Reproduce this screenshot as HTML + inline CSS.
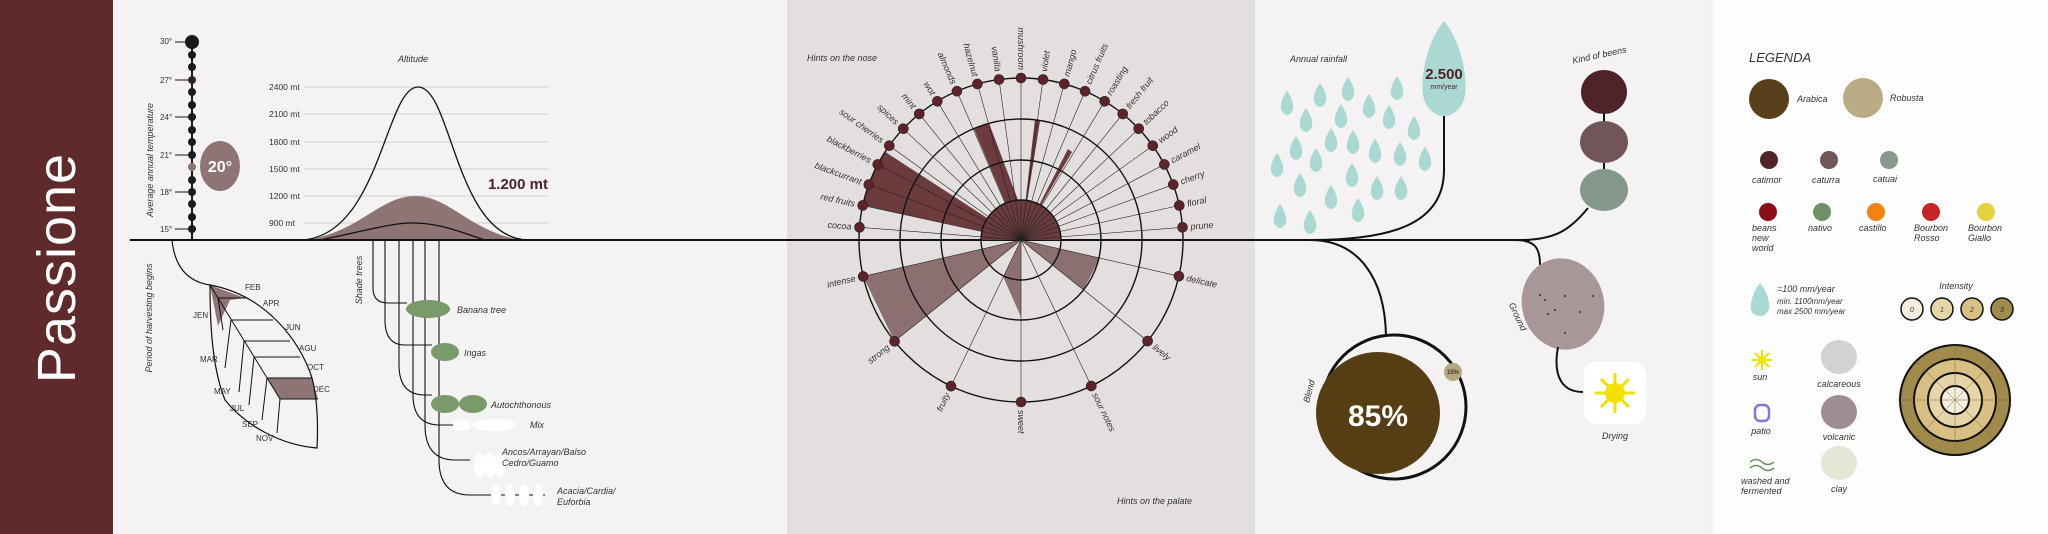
<!DOCTYPE html>
<html><head><meta charset="utf-8"><style>
html,body{margin:0;padding:0;background:#f4f2f2}
svg{display:block}
text{font-family:"Liberation Sans",sans-serif;fill:#333}
.i{font-style:italic;font-size:9px}
.s{font-size:9px}
</style></head><body>
<svg width="2048" height="534" viewBox="0 0 2048 534" xmlns="http://www.w3.org/2000/svg">
<defs><path id="d" d="M0,-12 C5,-5 7,2 6,6 C5,10 2,12 0,12 C-2,12 -5,10 -6,6 C-7,2 -5,-5 0,-12 Z"/></defs>
<rect x="0" y="0" width="2048" height="534" fill="#f4f2f2"/>
<rect x="0" y="0" width="113" height="534" fill="#5e2a2c"/>
<text transform="translate(75,268) rotate(-90)" text-anchor="middle" style="font-size:54px;fill:#fff;letter-spacing:1px">Passione</text>
<rect x="787" y="0" width="468" height="534" fill="#e4dfdf"/>
<rect x="1712" y="0" width="336" height="534" fill="#fdfdfd"/>

<!-- temperature -->
<text class="i" transform="translate(153,160) rotate(-90)" text-anchor="middle">Average annual temperature</text>
<line x1="192" y1="42" x2="192" y2="240" stroke="#1a1a1a" stroke-width="2"/>
<circle cx="192" cy="42" r="7" fill="#1a1a1a"/>
<g fill="#1a1a1a">
<circle cx="192" cy="55" r="4"/><circle cx="192" cy="67" r="4"/><circle cx="192" cy="80" r="4" fill="#3a2022"/><circle cx="192" cy="92" r="4"/><circle cx="192" cy="105" r="4"/><circle cx="192" cy="117" r="4"/><circle cx="192" cy="130" r="4"/><circle cx="192" cy="142" r="4"/><circle cx="192" cy="155" r="4"/><circle cx="192" cy="167" r="4" fill="#8f7475"/><circle cx="192" cy="180" r="4"/><circle cx="192" cy="192" r="4"/><circle cx="192" cy="204" r="4"/><circle cx="192" cy="217" r="4"/><circle cx="192" cy="229" r="4"/>
</g>
<g stroke="#1a1a1a" stroke-width="1"><line x1="175" y1="42" x2="192" y2="42"/><line x1="175" y1="80" x2="192" y2="80"/><line x1="175" y1="117" x2="192" y2="117"/><line x1="175" y1="155" x2="192" y2="155"/><line x1="175" y1="192" x2="192" y2="192"/><line x1="175" y1="229" x2="192" y2="229"/></g>
<g><text x="160" y="44" style="font-size:8px">30°</text><text x="160" y="83" style="font-size:8px">27°</text><text x="160" y="120" style="font-size:8px">24°</text><text x="160" y="158" style="font-size:8px">21°</text><text x="160" y="195" style="font-size:8px">18°</text><text x="160" y="232" style="font-size:8px">15°</text></g>
<ellipse cx="220" cy="166" rx="20" ry="25" fill="#8f7475"/>
<text x="220" y="172" text-anchor="middle" style="font-size:16px;font-weight:bold;fill:#fff">20°</text>

<!-- altitude -->
<text class="i" x="413" y="62" text-anchor="middle">Altitude</text>
<g stroke="#cfcfcf" stroke-width="1"><line x1="304" y1="87" x2="548" y2="87"/><line x1="304" y1="114" x2="548" y2="114"/><line x1="304" y1="142" x2="548" y2="142"/><line x1="304" y1="169" x2="548" y2="169"/><line x1="304" y1="196" x2="548" y2="196"/><line x1="304" y1="223" x2="548" y2="223"/></g>
<g><text x="269" y="90" style="font-size:8.5px">2400 mt</text><text x="269" y="117" style="font-size:8.5px">2100 mt</text><text x="269" y="145" style="font-size:8.5px">1800 mt</text><text x="269" y="172" style="font-size:8.5px">1500 mt</text><text x="269" y="199" style="font-size:8.5px">1200 mt</text><text x="269" y="226" style="font-size:8.5px">900 mt</text></g>
<path d="M306,240 C360,232 380,196 415,196 C450,196 470,232 522,240 Z" fill="#8f7475"/>
<path d="M300,240 C380,238 385,87 418,87 C452,87 455,238 528,240" fill="none" stroke="#111" stroke-width="1.3"/>
<path d="M320,240 C370,230 390,223 413,223 C440,223 460,232 485,240" fill="none" stroke="#111" stroke-width="1.3"/>
<text x="548" y="189" text-anchor="end" style="font-size:15px;font-weight:bold;fill:#4e2226">1.200 mt</text>

<!-- main line -->
<line x1="130" y1="240" x2="1530" y2="240" stroke="#111" stroke-width="2"/>

<!-- harvest -->
<text class="i" transform="translate(152,318) rotate(-90)" text-anchor="middle">Period of harvesting begins</text>
<path d="M172,240 C175,270 190,282 210,285" fill="none" stroke="#111" stroke-width="1.2"/>
<path d="M210,285 L245,298 L230,300 L218,326 Z" fill="#8f7475"/>
<path d="M267,378 L312,378 L318,399 L280,399 Z" fill="#8f7475"/>
<path d="M210,285 C265,295 300,340 312,378 C318,400 318,430 317,448 C280,445 245,425 225,400 C213,370 210,330 210,285 Z" fill="none" stroke="#111" stroke-width="1.2"/>
<path d="M210,285 L280,399" stroke="#111" stroke-width="1" fill="none"/>
<g stroke="#111" stroke-width="1">
<line x1="218" y1="298" x2="247" y2="298"/><line x1="231" y1="320" x2="273" y2="320"/><line x1="244" y1="341" x2="290" y2="341"/><line x1="254" y1="357" x2="300" y2="357"/><line x1="267" y1="378" x2="312" y2="378"/><line x1="280" y1="399" x2="318" y2="399"/>
<line x1="218" y1="298" x2="223" y2="330"/><line x1="231" y1="320" x2="225" y2="368"/><line x1="244" y1="341" x2="239" y2="392"/><line x1="254" y1="357" x2="249" y2="405"/><line x1="267" y1="378" x2="262" y2="420"/><line x1="280" y1="399" x2="277" y2="433"/>
</g>
<g>
<text x="245" y="290" style="font-size:8px">FEB</text><text x="263" y="306" style="font-size:8px">APR</text><text x="285" y="330" style="font-size:8px">JUN</text><text x="299" y="351" style="font-size:8px">AGU</text><text x="307" y="370" style="font-size:8px">OCT</text><text x="313" y="392" style="font-size:8px">DEC</text>
<text x="193" y="318" style="font-size:8px">JEN</text><text x="200" y="362" style="font-size:8px">MAR</text><text x="214" y="394" style="font-size:8px">MAY</text><text x="230" y="411" style="font-size:8px">JUL</text><text x="242" y="427" style="font-size:8px">SEP</text><text x="256" y="441" style="font-size:8px">NOV</text>
</g>

<!-- shade trees -->
<text class="i" transform="translate(362,280) rotate(-90)" text-anchor="middle">Shade trees</text>
<g fill="none" stroke="#111" stroke-width="1.1">
<path d="M373,240 V288 Q373,303 388,303 H407"/>
<path d="M385,240 V320 Q385,345 405,345 H432"/>
<path d="M399,240 V365 Q399,395 425,395 H432"/>
<path d="M413,240 V395 Q413,425 440,425 H456"/>
<path d="M425,240 V425 Q425,460 455,460 H470"/>
<path d="M439,240 V460 Q439,495 470,495 H545"/>
</g>
<g fill="#799a6b"><ellipse cx="428" cy="309" rx="22" ry="9"/><ellipse cx="445" cy="352" rx="14" ry="9"/><ellipse cx="445" cy="404" rx="14" ry="9"/><ellipse cx="473" cy="404" rx="14" ry="9"/></g>
<g fill="#fff"><ellipse cx="462" cy="425" rx="9" ry="6"/><ellipse cx="494" cy="425" rx="22" ry="6"/><ellipse cx="480" cy="465" rx="6" ry="12"/><ellipse cx="490" cy="465" rx="6" ry="12"/><ellipse cx="500" cy="465" rx="6" ry="12"/><ellipse cx="496" cy="495" rx="5" ry="11"/><ellipse cx="510" cy="495" rx="5" ry="11"/><ellipse cx="524" cy="495" rx="5" ry="11"/><ellipse cx="538" cy="495" rx="5" ry="11"/></g>
<g class="i"><text x="457" y="313">Banana tree</text><text x="464" y="356">Ingas</text><text x="491" y="408">Autochthonous</text><text x="530" y="428">Mix</text><text x="502" y="455">Ancos/Arrayan/Balso</text><text x="502" y="466">Cedro/Guamo</text><text x="557" y="494">Acacia/Cardia/</text><text x="557" y="505">Euforbia</text></g>

<!-- radar -->
<text class="i" x="807" y="61">Hints on the nose</text>
<text class="i" x="1117" y="504">Hints on the palate</text>
<g transform="translate(1021,240)">
<path d="M-40,0 A40,40 0 0 1 40,0 Z" fill="#6b3b3e"/>
<polygon points="0,0 -158.3,-34.5 -152.2,-55.4 -143.4,-75.5 -135.9,-88.2" fill="#6b3b3e"/>
<polygon points="0,0 -47,-111 -32,-117 -3,-40" fill="#6b3b3e"/>
<polygon points="0,0 14,-121 19,-119" fill="#6b3b3e"/>
<polygon points="0,0 47,-91 51,-88" fill="#6b3b3e"/>
<polygon points="0,0 -157.8,36.4 -126.5,101.3" fill="#8c6f71"/>
<polygon points="0,0 -17.7,37 0,77" fill="#8c6f71"/>
<polygon points="0,0 79,18 62.5,49.9" fill="#8c6f71"/>
<g fill="none" stroke="#111" stroke-width="1.4"><circle r="40"/><circle r="80"/><circle r="121"/><circle r="162"/></g>
<g stroke="#222" stroke-width="0.6" fill="#5e2228" class="i">
<g transform="rotate(-175.5)"><line x2="162"/><circle cx="162" r="5"/><text transform="rotate(180)" x="-170" y="3" text-anchor="end" stroke="none">cocoa</text></g>
<g transform="rotate(-167.7)"><line x2="162"/><circle cx="162" r="5"/><text transform="rotate(180)" x="-170" y="3" text-anchor="end" stroke="none">red fruits</text></g>
<g transform="rotate(-160)"><line x2="162"/><circle cx="162" r="5"/><text transform="rotate(180)" x="-170" y="3" text-anchor="end" stroke="none">blackcurrant</text></g>
<g transform="rotate(-152.2)"><line x2="162"/><circle cx="162" r="5"/><text transform="rotate(180)" x="-170" y="3" text-anchor="end" stroke="none">blackberries</text></g>
<g transform="rotate(-144.4)"><line x2="162"/><circle cx="162" r="5"/><text transform="rotate(180)" x="-170" y="3" text-anchor="end" stroke="none">sour cherries</text></g>
<g transform="rotate(-136.6)"><line x2="162"/><circle cx="162" r="5"/><text transform="rotate(180)" x="-170" y="3" text-anchor="end" stroke="none">spices</text></g>
<g transform="rotate(-128.9)"><line x2="162"/><circle cx="162" r="5"/><text transform="rotate(180)" x="-170" y="3" text-anchor="end" stroke="none">mint</text></g>
<g transform="rotate(-121.1)"><line x2="162"/><circle cx="162" r="5"/><text transform="rotate(180)" x="-170" y="3" text-anchor="end" stroke="none">wot</text></g>
<g transform="rotate(-113.3)"><line x2="162"/><circle cx="162" r="5"/><text transform="rotate(180)" x="-170" y="3" text-anchor="end" stroke="none">almonds</text></g>
<g transform="rotate(-105.6)"><line x2="162"/><circle cx="162" r="5"/><text transform="rotate(180)" x="-170" y="3" text-anchor="end" stroke="none">hazelnut</text></g>
<g transform="rotate(-97.8)"><line x2="162"/><circle cx="162" r="5"/><text transform="rotate(180)" x="-170" y="3" text-anchor="end" stroke="none">vanilla</text></g>
<g transform="rotate(-90)"><line x2="162"/><circle cx="162" r="5"/><text transform="rotate(180)" x="-170" y="3" text-anchor="end" stroke="none">mushroom</text></g>
<g transform="rotate(-82.2)"><line x2="162"/><circle cx="162" r="5"/><text x="170" y="3" stroke="none">violet</text></g>
<g transform="rotate(-74.5)"><line x2="162"/><circle cx="162" r="5"/><text x="170" y="3" stroke="none">mango</text></g>
<g transform="rotate(-66.7)"><line x2="162"/><circle cx="162" r="5"/><text x="170" y="3" stroke="none">citrus fruits</text></g>
<g transform="rotate(-58.9)"><line x2="162"/><circle cx="162" r="5"/><text x="170" y="3" stroke="none">roasting</text></g>
<g transform="rotate(-51.1)"><line x2="162"/><circle cx="162" r="5"/><text x="170" y="3" stroke="none">fresh fruit</text></g>
<g transform="rotate(-43.4)"><line x2="162"/><circle cx="162" r="5"/><text x="170" y="3" stroke="none">tobacco</text></g>
<g transform="rotate(-35.6)"><line x2="162"/><circle cx="162" r="5"/><text x="170" y="3" stroke="none">wood</text></g>
<g transform="rotate(-27.8)"><line x2="162"/><circle cx="162" r="5"/><text x="170" y="3" stroke="none">caramel</text></g>
<g transform="rotate(-20)"><line x2="162"/><circle cx="162" r="5"/><text x="170" y="3" stroke="none">cherry</text></g>
<g transform="rotate(-12.3)"><line x2="162"/><circle cx="162" r="5"/><text x="170" y="3" stroke="none">floral</text></g>
<g transform="rotate(-4.5)"><line x2="162"/><circle cx="162" r="5"/><text x="170" y="3" stroke="none">prune</text></g>
<g transform="rotate(167)"><line x2="162"/><circle cx="162" r="5"/><text transform="rotate(180)" x="-170" y="3" text-anchor="end" stroke="none">intense</text></g>
<g transform="rotate(141.3)"><line x2="162"/><circle cx="162" r="5"/><text transform="rotate(180)" x="-170" y="3" text-anchor="end" stroke="none">strong</text></g>
<g transform="rotate(115.6)"><line x2="162"/><circle cx="162" r="5"/><text transform="rotate(180)" x="-170" y="3" text-anchor="end" stroke="none">fruity</text></g>
<g transform="rotate(90)"><line x2="162"/><circle cx="162" r="5"/><text x="170" y="3" stroke="none">sweet</text></g>
<g transform="rotate(64.3)"><line x2="162"/><circle cx="162" r="5"/><text x="170" y="3" stroke="none">sour notes</text></g>
<g transform="rotate(38.6)"><line x2="162"/><circle cx="162" r="5"/><text x="170" y="3" stroke="none">lively</text></g>
<g transform="rotate(12.9)"><line x2="162"/><circle cx="162" r="5"/><text x="170" y="3" stroke="none">delicate</text></g>
</g>
</g>

<!-- rainfall -->
<text class="i" x="1290" y="62">Annual rainfall</text>
<g fill="#aad9d4">
<path d="M1444,21 C1460,40 1468,75 1465,95 C1462,110 1452,116 1444,116 C1436,116 1426,110 1423,95 C1420,75 1428,40 1444,21 Z"/>
<use href="#d" x="1287" y="103"/><use href="#d" x="1320" y="95"/><use href="#d" x="1348" y="89"/><use href="#d" x="1397" y="88"/>
<use href="#d" x="1306" y="120"/><use href="#d" x="1341" y="116"/><use href="#d" x="1369" y="106"/><use href="#d" x="1389" y="117"/><use href="#d" x="1414" y="128"/>
<use href="#d" x="1296" y="148"/><use href="#d" x="1331" y="140"/><use href="#d" x="1353" y="142"/><use href="#d" x="1375" y="151"/><use href="#d" x="1400" y="154"/><use href="#d" x="1425" y="159"/>
<use href="#d" x="1277" y="165"/><use href="#d" x="1316" y="160"/><use href="#d" x="1352" y="175"/><use href="#d" x="1377" y="188"/><use href="#d" x="1401" y="188"/>
<use href="#d" x="1300" y="185"/><use href="#d" x="1331" y="197"/><use href="#d" x="1358" y="210"/><use href="#d" x="1280" y="216"/><use href="#d" x="1310" y="222"/>
</g>
<text x="1444" y="79" text-anchor="middle" style="font-size:15px;font-weight:bold;fill:#4e2226">2.500</text>
<text x="1444" y="89" text-anchor="middle" style="font-size:7px;fill:#4e2226">mm/year</text>
<path d="M1444,116 V170 C1444,225 1390,240 1310,240" fill="none" stroke="#111" stroke-width="2"/>

<!-- kind of beans -->
<text class="i" transform="translate(1600,58) rotate(-12)" text-anchor="middle">Kind of beens</text>
<line x1="1604" y1="110" x2="1604" y2="175" stroke="#111" stroke-width="2"/>
<ellipse cx="1604" cy="92" rx="23" ry="22" fill="#4e2428"/>
<ellipse cx="1604" cy="142" rx="24" ry="21" fill="#725558"/>
<ellipse cx="1604" cy="190" rx="24" ry="21" fill="#83988b"/>
<path d="M1588,208 C1570,230 1555,240 1520,240" fill="none" stroke="#111" stroke-width="2"/>

<!-- ground -->
<path d="M1515,240 C1535,240 1540,248 1540,265" fill="none" stroke="#111" stroke-width="2"/>
<ellipse cx="1563" cy="304" rx="41" ry="46" fill="#a89799" transform="rotate(-15 1563 304)"/>
<g fill="#4e2228"><circle cx="1545" cy="300" r="1"/><circle cx="1555" cy="310" r="1"/><circle cx="1548" cy="314" r="1"/><circle cx="1565" cy="296" r="1"/><circle cx="1580" cy="312" r="1"/><circle cx="1565" cy="333" r="1"/><circle cx="1593" cy="296" r="1"/><circle cx="1540" cy="295" r="1"/></g>
<text class="i" transform="translate(1515,318) rotate(65)" text-anchor="middle">Ground</text>
<path d="M1558,347 C1552,380 1565,392 1583,392" fill="none" stroke="#111" stroke-width="2"/>
<rect x="1584" y="362" width="62" height="62" rx="12" fill="#fff"/>
<g stroke="#f4e000" stroke-width="3"><line x1="1615" y1="373" x2="1615" y2="413"/><line x1="1595" y1="393" x2="1635" y2="393"/><line x1="1601" y1="379" x2="1629" y2="407"/><line x1="1629" y1="379" x2="1601" y2="407"/></g>
<circle cx="1615" cy="393" r="10" fill="#f4e000"/>
<text class="i" x="1615" y="439" text-anchor="middle">Drying</text>

<!-- blend -->
<path d="M1310,240 C1360,240 1385,280 1386,336" fill="none" stroke="#111" stroke-width="2"/>
<ellipse cx="1394" cy="407" rx="72" ry="72" fill="none" stroke="#111" stroke-width="3"/>
<ellipse cx="1378" cy="413" rx="62" ry="61" fill="#553d14"/>
<circle cx="1453" cy="372" r="9" fill="#b5a77f"/>
<text x="1453" y="374" text-anchor="middle" style="font-size:6px;font-weight:bold">15%</text>
<text x="1378" y="426" text-anchor="middle" style="font-size:30px;font-weight:bold;fill:#fff">85%</text>
<text class="i" transform="translate(1312,392) rotate(-75)" text-anchor="middle">Blend</text>

<!-- legend -->
<line x1="1712" y1="0" x2="1712" y2="534" stroke="#ececec"/>
<text x="1749" y="62" style="font-size:13px;font-style:italic;fill:#333">LEGENDA</text>
<ellipse cx="1769" cy="99" rx="20" ry="20" fill="#57401a"/><text class="i" x="1797" y="102">Arabica</text>
<ellipse cx="1863" cy="98" rx="20" ry="20" fill="#b9ab83"/><text class="i" x="1890" y="101">Robusta</text>
<ellipse cx="1769" cy="160" rx="9" ry="9" fill="#4f2528"/><ellipse cx="1829" cy="160" rx="9" ry="9" fill="#725558"/><ellipse cx="1889" cy="160" rx="9" ry="9" fill="#86998d"/>
<g class="i"><text x="1752" y="183">catimor</text><text x="1812" y="183">caturra</text><text x="1873" y="182">catuai</text></g>
<ellipse cx="1768" cy="212" rx="9" ry="9" fill="#8b0d16"/><ellipse cx="1822" cy="212" rx="9" ry="9" fill="#6f9167"/><ellipse cx="1876" cy="212" rx="9" ry="9" fill="#ef8410"/><ellipse cx="1931" cy="212" rx="9" ry="9" fill="#c62528"/><ellipse cx="1986" cy="212" rx="9" ry="9" fill="#e3d23d"/>
<g class="i"><text x="1752" y="231">beans</text><text x="1752" y="241">new</text><text x="1752" y="251">world</text><text x="1808" y="231">nativo</text><text x="1859" y="231">castillo</text><text x="1914" y="231">Bourbon</text><text x="1914" y="241">Rosso</text><text x="1968" y="231">Bourbon</text><text x="1968" y="241">Giallo</text></g>
<path d="M1760,283 C1768,292 1770,305 1769,309 C1767,315 1763,316 1760,316 C1756,316 1752,314 1751,309 C1750,303 1753,292 1760,283 Z" fill="#aad9d4"/>
<g class="i"><text x="1777" y="292">=100 mm/year</text><text x="1777" y="304" style="font-size:8px">min. 1100mm/year</text><text x="1777" y="314" style="font-size:8px">max 2500 mm/year</text></g>
<text class="i" x="1956" y="289" text-anchor="middle">Intensity</text>
<g stroke="#111" stroke-width="1.5"><circle cx="1912" cy="309" r="11" fill="#f5efe0"/><circle cx="1942" cy="309" r="11" fill="#e6d5a8"/><circle cx="1972" cy="309" r="11" fill="#d8c083"/><circle cx="2002" cy="309" r="11" fill="#a08b4c"/></g>
<g class="i" text-anchor="middle"><text x="1912" y="312" style="font-size:7px">0</text><text x="1942" y="312" style="font-size:7px">1</text><text x="1972" y="312" style="font-size:7px">2</text><text x="2002" y="312" style="font-size:7px">3</text></g>
<g stroke="#f4e000" stroke-width="2"><line x1="1762" y1="350" x2="1762" y2="370"/><line x1="1752" y1="360" x2="1772" y2="360"/><line x1="1755" y1="353" x2="1769" y2="367"/><line x1="1769" y1="353" x2="1755" y2="367"/></g>
<circle cx="1762" cy="360" r="4" fill="#f4e000"/>
<text class="i" x="1760" y="380" text-anchor="middle">sun</text>
<ellipse cx="1839" cy="357" rx="18" ry="17" fill="#d2d2d2"/><text class="i" x="1839" y="387" text-anchor="middle">calcareous</text>
<rect x="1755" y="405" width="14" height="16" rx="5" fill="none" stroke="#7a7ad8" stroke-width="2.5"/>
<text class="i" x="1761" y="434" text-anchor="middle">patio</text>
<ellipse cx="1839" cy="412" rx="18" ry="17" fill="#9c8e92"/><text class="i" x="1839" y="440" text-anchor="middle">volcanic</text>
<path d="M1750,462 q6,-5 12,0 t12,0 M1750,468 q6,-5 12,0 t12,0" fill="none" stroke="#6f9167" stroke-width="1.5"/>
<text class="i" x="1741" y="484">washed and</text><text class="i" x="1741" y="494">fermented</text>
<ellipse cx="1839" cy="463" rx="18" ry="17" fill="#e4e6d6"/><text class="i" x="1839" y="492" text-anchor="middle">clay</text>
<g stroke="#111" stroke-width="2"><circle cx="1955" cy="400" r="55" fill="#a08b4c"/><circle cx="1955" cy="400" r="41" fill="#d8c083"/><circle cx="1955" cy="400" r="27" fill="#e6d5a8"/><circle cx="1955" cy="400" r="14" fill="#f5efe0"/></g>
<g stroke="#7a6a3a" stroke-width="0.5"><line x1="1900" y1="400" x2="2010" y2="400"/><line x1="1955" y1="345" x2="1955" y2="455"/><line x1="1916" y1="361" x2="1994" y2="439"/><line x1="1994" y1="361" x2="1916" y2="439"/></g>
</svg>
</body></html>
